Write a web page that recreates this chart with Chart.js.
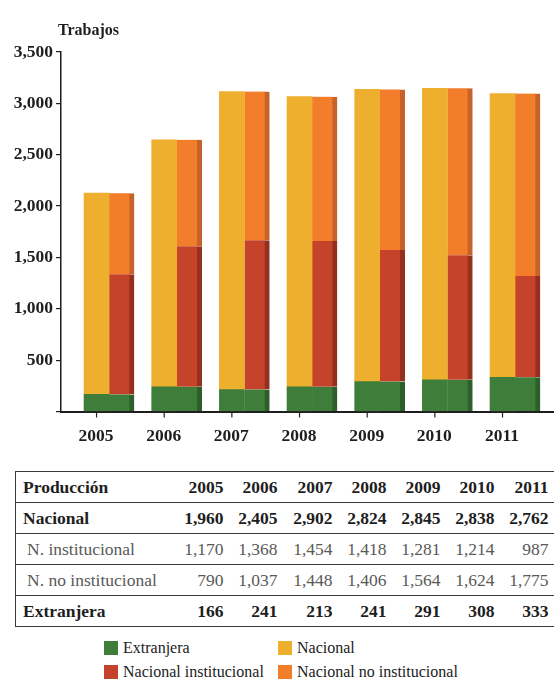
<!DOCTYPE html>
<html>
<head>
<meta charset="utf-8">
<script src="https://cdn.jsdelivr.net/npm/chart.js@4.4.1/dist/chart.umd.min.js"></script>
<style>
  body { margin: 0; background: #fff; font-family: "Liberation Serif", serif; }
  #wrap { position: relative; width: 554px; height: 687px; overflow: hidden; }
  #chartBox { position: absolute; left: 0; top: 0; width: 554px; height: 460px; }
  #tabla { position: absolute; left: 15px; top: 471px; border-collapse: collapse; table-layout: fixed; width: 539px; font-size: 17.5px; color: #1e1e1e; }
  #tabla td { height: 30px; padding: 0; border-top: 1px solid #3a3a3a; border-bottom: 1px solid #3a3a3a; text-align: right; white-space: nowrap; }
  #tabla td:first-child { text-align: left; padding-left: 7px; border-left: 1px solid #3a3a3a; }
  #tabla td:last-child { padding-right: 6px; }
  #tabla tr.bold td { font-weight: bold; }
  #tabla tr.sub td { color: #595959; }
  #tabla tr.sub td:first-child { padding-left: 11px; }
  .leg { position: absolute; font-size: 16px; color: #222; line-height: 16px; white-space: nowrap; }
  .leg span { display: inline-block; width: 14px; height: 14px; vertical-align: -2px; margin-right: 5px; }
</style>
</head>
<body>
<div id="wrap">
  <div id="chartBox"><canvas id="barChart"></canvas></div>
  <table id="tabla"></table>
  <div id="legend"></div>
</div>
<script>
var years = [2005, 2006, 2007, 2008, 2009, 2010, 2011];
var nacional = [1960, 2405, 2902, 2824, 2845, 2838, 2762];
var nInstitucional = [1170, 1368, 1454, 1418, 1281, 1214, 987];
var nNoInstitucional = [790, 1037, 1448, 1406, 1564, 1624, 1775];
var extranjera = [166, 241, 213, 241, 291, 308, 333];
var yTicks = [0, 500, 1000, 1500, 2000, 2500, 3000, 3500];

var legendNames = ['Extranjera', 'Nacional', 'Nacional institucional', 'Nacional no institucional'];

var FONT = '"Liberation Serif", serif';
var colors = {
  green: '#3f7e3a', greenSide: '#2d5e2b',
  yellow: '#efaf2e',
  red: '#c4432a', redSide: '#95301f',
  orange: '#f27d2b', orangeSide: '#c7632a'
};

function points(values) {
  return years.map(function (y, i) { return { x: y, y: values[i] }; });
}

function fmt(v) {
  return v.toLocaleString('en-US');
}

// titulo del eje y y las marcas del eje x (centradas en la barra de la izquierda)
var extras = {
  id: 'extras',
  afterDraw: function (chart) {
    var ctx = chart.ctx;
    var area = chart.chartArea;
    ctx.save();
    ctx.fillStyle = '#1e1e1e';
    ctx.font = 'bold 16px ' + FONT;
    ctx.textAlign = 'left';
    ctx.textBaseline = 'middle';
    ctx.fillText('Trabajos', area.left - 3, area.top - 21);

    ctx.strokeStyle = '#222';
    ctx.lineWidth = 1.2;
    var meta = chart.getDatasetMeta(1);
    meta.data.forEach(function (bar) {
      ctx.beginPath();
      ctx.moveTo(bar.x, area.bottom + 1);
      ctx.lineTo(bar.x, area.bottom + 6);
      ctx.stroke();
    });
    ctx.restore();
  }
};

function createChart() {
  var ctx = document.getElementById('barChart').getContext('2d');
  var side = function () { return { top: 0, left: 0, bottom: 0, right: 5 }; };

  new Chart(ctx, {
    type: 'bar',
    data: {
      datasets: [
        { label: 'Extranjera', data: points(extranjera), stack: 'a', backgroundColor: colors.green },
        { label: 'Nacional', data: points(nacional), stack: 'a', backgroundColor: colors.yellow },
        { label: 'Extranjera', data: points(extranjera), stack: 'b', backgroundColor: colors.green,
          borderColor: colors.greenSide, borderWidth: side(), borderSkipped: false },
        { label: 'Nacional institucional', data: points(nInstitucional), stack: 'b', backgroundColor: colors.red,
          borderColor: colors.redSide, borderWidth: side(), borderSkipped: false },
        { label: 'Nacional no institucional', data: points(nNoInstitucional), stack: 'b', backgroundColor: colors.orange,
          borderColor: colors.orangeSide, borderWidth: side(), borderSkipped: false }
      ]
    },
    options: {
      responsive: true,
      maintainAspectRatio: false,
      animation: false,
      barThickness: 25,
      layout: { padding: { top: 52, left: 0, right: 0, bottom: 0 } },
      plugins: { legend: { display: false }, tooltip: { enabled: false } },
      scales: {
        x: {
          type: 'linear',
          stacked: true,
          offset: false,
          min: 2004.29,
          max: 2011.576,
          afterBuildTicks: function (scale) {
            scale.ticks = years.map(function (y) { return { value: y }; });
          },
          afterFit: function (scale) { scale.height = 48.5; },
          grid: { display: false },
          border: { display: true, color: '#1e1e1e', width: 2 },
          ticks: {
            color: '#1e1e1e',
            font: { family: FONT, size: 17.5, weight: 'bold' },
            padding: 6,
            labelOffset: -13,
            maxRotation: 0,
            callback: function (v) { return String(v); }
          }
        },
        y: {
          stacked: true,
          min: 0,
          max: 3500,
          afterBuildTicks: function (scale) {
            scale.ticks = yTicks.map(function (v) { return { value: v }; });
          },
          afterFit: function (scale) { scale.width = 61; },
          grid: { display: true, drawOnChartArea: false, drawTicks: true, tickLength: 5, color: '#1e1e1e', lineWidth: 1.2 },
          border: { display: true, color: '#1e1e1e', width: 1.5 },
          ticks: {
            color: '#1e1e1e',
            font: { family: FONT, size: 17.5, weight: 'bold' },
            padding: 3,
            callback: function (v) { return v === 0 ? '' : fmt(v); }
          }
        }
      }
    },
    plugins: [extras]
  });
}

function createTable() {
  var rows = [
    { name: 'Producción', values: years, cls: 'bold', raw: true },
    { name: 'Nacional', values: nacional, cls: 'bold' },
    { name: 'N. institucional', values: nInstitucional, cls: 'sub' },
    { name: 'N. no institucional', values: nNoInstitucional, cls: 'sub' },
    { name: 'Extranjera', values: extranjera, cls: 'bold' }
  ];
  var widths = [154, 54, 54, 55, 54, 54, 54, 60];
  var html = '<colgroup>' + widths.map(function (w) { return '<col style="width:' + w + 'px">'; }).join('') + '</colgroup>';
  rows.forEach(function (r) {
    html += '<tr class="' + r.cls + '"><td>' + r.name + '</td>';
    r.values.forEach(function (v) {
      html += '<td>' + (r.raw ? String(v) : fmt(v)) + '</td>';
    });
    html += '</tr>';
  });
  document.getElementById('tabla').innerHTML = html;
}

function createLegend() {
  var legendColors = [colors.green, colors.yellow, colors.red, colors.orange];
  var pos = [[104, 640], [278, 640], [104, 664], [278, 664]];
  var html = '';
  legendNames.forEach(function (name, i) {
    html += '<div class="leg" style="left:' + pos[i][0] + 'px;top:' + pos[i][1] + 'px">' +
      '<span style="background:' + legendColors[i] + '"></span>' + name + '</div>';
  });
  document.getElementById('legend').innerHTML = html;
}

createChart();
createTable();
createLegend();
</script>
</body>
</html>
